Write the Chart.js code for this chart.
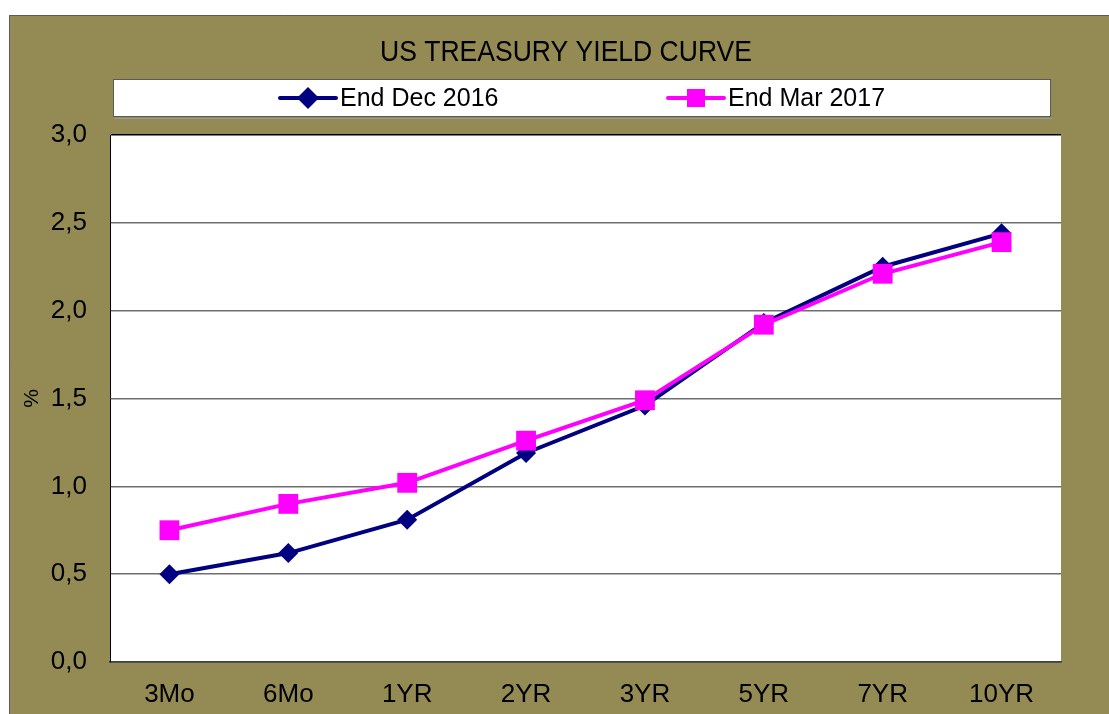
<!DOCTYPE html>
<html>
<head>
<meta charset="utf-8">
<script src="https://cdn.jsdelivr.net/npm/chart.js@4"></script>
<style>
    html, body { margin: 0; padding: 0; background: #fff; }
</style>
</head>
<body>
<canvas id="grafico" width="1109" height="714"></canvas>
<script>
const maturities = ['3Mo', '6Mo', '1YR', '2YR', '3YR', '5YR', '7YR', '10YR'];
const endDec2016 = [0.50, 0.62, 0.81, 1.19, 1.46, 1.93, 2.25, 2.44];
const endMar2017 = [0.75, 0.90, 1.02, 1.26, 1.49, 1.92, 2.21, 2.39];
const yTicks = [0, 0.5, 1, 1.5, 2, 2.5, 3];
const chartTitle = 'US TREASURY YIELD CURVE';

const OLIVE = '#948a54';
const FONT = '"Liberation Sans", Arial, sans-serif';

// olive frame + white plot area
const backgroundPlugin = {
    id: 'fundo',
    beforeDraw(chart) {
        const ctx = chart.ctx;
        const a = chart.chartArea;
        ctx.save();
        ctx.fillStyle = '#fff';
        ctx.fillRect(0, 0, chart.width, chart.height);
        ctx.fillStyle = OLIVE;
        ctx.fillRect(9, 15, chart.width - 9, chart.height - 15);
        ctx.strokeStyle = '#5a5a5a';
        ctx.lineWidth = 1;
        ctx.beginPath();
        ctx.moveTo(9.5, chart.height);
        ctx.lineTo(9.5, 15.5);
        ctx.lineTo(chart.width, 15.5);
        ctx.stroke();
        ctx.fillStyle = '#fff';
        ctx.fillRect(a.left, a.top, a.right - a.left, a.bottom - a.top);
        ctx.restore();
    }
};

// title and boxed legend with line + marker, like the spreadsheet one
const legendPlugin = {
    id: 'legendaCaixa',
    afterDraw(chart) {
        const ctx = chart.ctx;
        ctx.save();
        ctx.fillStyle = '#000';
        ctx.font = '29px ' + FONT;
        ctx.textAlign = 'center';
        ctx.textBaseline = 'middle';
        ctx.fillText(chartTitle, 566, 53, 372);

        ctx.fillStyle = '#fff';
        ctx.fillRect(113, 79, 938, 38);
        ctx.strokeStyle = '#5a5a5a';
        ctx.lineWidth = 1;
        ctx.strokeRect(113.5, 79.5, 937, 37);
        ctx.strokeStyle = '#9a9a9a';
        ctx.beginPath();
        ctx.moveTo(114, 118.5);
        ctx.lineTo(1052, 118.5);
        ctx.stroke();

        const starts = [280, 668];
        chart.data.datasets.forEach((ds, i) => {
            const x = starts[i];
            const y = 98;
            ctx.strokeStyle = ds.borderColor;
            ctx.lineWidth = 4;
            ctx.lineCap = 'round';
            ctx.beginPath();
            ctx.moveTo(x, y);
            ctx.lineTo(x + 56, y);
            ctx.stroke();
            ctx.fillStyle = ds.pointBackgroundColor;
            Chart.helpers.drawPoint(ctx, {
                pointStyle: ds.pointStyle,
                radius: ds.legendRadius,
                rotation: 0,
                borderWidth: 0
            }, x + 28, y);
            ctx.fillStyle = '#000';
            ctx.font = '25px ' + FONT;
            ctx.textBaseline = 'middle';
            ctx.textAlign = 'left';
            ctx.fillText(ds.label, x + 60, y + 1);
        });
        ctx.restore();
    }
};

const ctx = document.getElementById('grafico').getContext('2d');
const yieldChart = new Chart(ctx, {
    type: 'line',
    data: {
        labels: maturities,
        datasets: [
            {
                label: 'End Dec 2016',
                data: endDec2016,
                borderColor: '#000080',
                backgroundColor: '#000080',
                pointBackgroundColor: '#000080',
                pointBorderColor: '#000080',
                pointStyle: 'rectRot',
                pointRadius: 10,
                pointBorderWidth: 0,
                borderWidth: 4,
                tension: 0,
                order: 1,
                legendRadius: 11
            },
            {
                label: 'End Mar 2017',
                data: endMar2017,
                borderColor: '#ff00ff',
                backgroundColor: '#ff00ff',
                pointBackgroundColor: '#ff00ff',
                pointBorderColor: '#ff00ff',
                pointStyle: 'rect',
                pointRadius: 14,
                pointBorderWidth: 0,
                borderWidth: 4,
                tension: 0,
                order: 0,
                legendRadius: 12.7
            }
        ]
    },
    options: {
        responsive: false,
        animation: false,
        layout: {
            padding: { left: 0, right: 48, top: 135, bottom: 0 }
        },
        plugins: {
            legend: { display: false },
            tooltip: { enabled: false },
            title: { display: false }
        },
        scales: {
            x: {
                offset: true,
                grid: { display: false, drawTicks: false },
                border: { display: true, color: '#404040', width: 1.5 },
                ticks: {
                    color: '#000',
                    padding: 17,
                    maxRotation: 0,
                    font: { family: FONT, size: 26, lineHeight: 1.2 }
                },
                afterFit: function (scale) { scale.height = 52; }
            },
            y: {
                min: 0,
                max: 3,
                afterBuildTicks: function (scale) {
                    scale.ticks = yTicks.map(v => ({ value: v }));
                },
                grid: {
                    drawTicks: false,
                    lineWidth: 1.5,
                    color: function (c) {
                        if (c.tick && c.tick.value === 3) return '#000';
                        if (c.tick && c.tick.value === 0) return '#404040';
                        return '#6e6e6e';
                    }
                },
                border: { display: true, color: '#000', width: 1 },
                ticks: {
                    color: '#000',
                    padding: 23,
                    font: { family: FONT, size: 26, lineHeight: 1.2 },
                    callback: function (value) {
                        return Number(value).toFixed(1).replace('.', ',');
                    }
                },
                title: {
                    display: true,
                    text: '%',
                    color: '#000',
                    font: { family: FONT, size: 21, lineHeight: 1.2 },
                    padding: { top: 20, bottom: 0 }
                },
                afterFit: function (scale) { scale.width = 110; }
            }
        }
    },
    plugins: [backgroundPlugin, legendPlugin]
});
</script>
</body>
</html>
